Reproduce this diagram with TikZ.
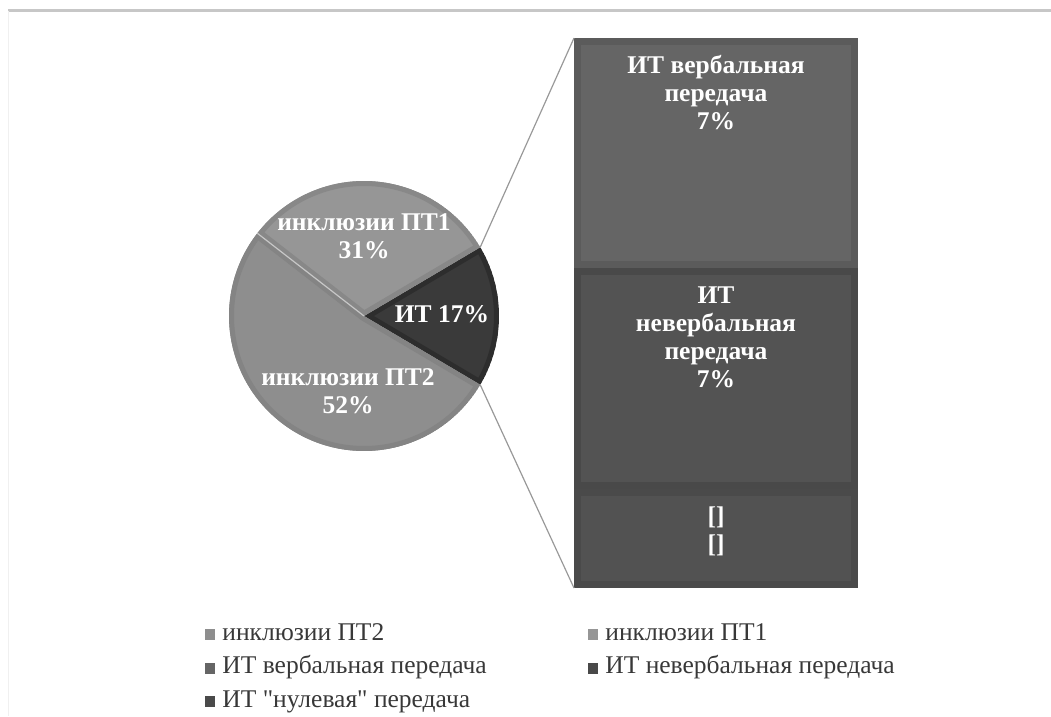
\documentclass[tikz,border=0pt]{standalone}
\usepackage{fontspec}
\IfFontExistsTF{LiberationSerif-Regular.ttf}
  {\setmainfont{LiberationSerif}[Extension=.ttf, UprightFont=*-Regular, BoldFont=*-Bold,
     ItalicFont=*-Italic, BoldItalicFont=*-BoldItalic, Ligatures=TeXOff]}
  {\setmainfont{Liberation Serif}[Ligatures=TeXOff]}
\usetikzlibrary{positioning}

\definecolor{ptTwoRim}{HTML}{848484}
\definecolor{ptTwoFill}{HTML}{8E8E8E}
\definecolor{ptOneRim}{HTML}{888888}
\definecolor{ptOneFill}{HTML}{969696}
\definecolor{itRim}{HTML}{2D2D2D}
\definecolor{itFill}{HTML}{3A3A3A}
\definecolor{verbRim}{HTML}{5B5B5B}
\definecolor{verbFill}{HTML}{656565}
\definecolor{nonverbRim}{HTML}{494949}
\definecolor{nonverbFill}{HTML}{535353}
\definecolor{nullRim}{HTML}{4A4A4A}
\definecolor{nullFill}{HTML}{525252}

\def\pierad{135pt}

% one wedge of the pie with a darker rim inside
\newcommand{\pieslice}[4]{%
  \begin{scope}
    \clip (pc) -- ++(#1:\pierad) arc (#1:#2:\pierad) -- cycle;
    \fill[#4, draw=#3, line width=10pt] (pc) -- ++(#1:\pierad) arc (#1:#2:\pierad) -- cycle;
  \end{scope}}

\begin{document}
\begin{tikzpicture}[x=1pt, y=1pt,
    segment/.style 2 args={rectangle, fill=#1, minimum width=284pt, inner sep=0pt, outer sep=0pt,
      path picture={\fill[#2] ([shift={(7pt,-7pt)}]path picture bounding box.north west)
        rectangle ([shift={(-7pt,7pt)}]path picture bounding box.south east);}},
    datalabel/.style={text=white, align=center, inner sep=0pt,
      font=\bfseries\fontsize{25.5}{28}\selectfont},
    legmark/.style={rectangle, minimum width=10pt, minimum height=11pt, inner sep=0pt},
    legtext/.style={inner sep=0pt, text=black!78, font=\fontsize{25.5}{30}\selectfont},
    leader/.style={draw=black!40, line width=1.2pt}]

  \useasboundingbox (0,0) rectangle (1051,716);

  % frame of the chart area
  \draw[black!22, line width=2.5pt] (8,705.5) -- (1051,705.5);
  \draw[black!6, line width=1pt] (8,705) -- (8,0);

  % Pie
  \coordinate (pc) at (364,400);
  \pieslice{-30.6}{30.6}{itRim}{itFill}
  \pieslice{30.6}{142.2}{ptOneRim}{ptOneFill}
  \pieslice{142.2}{329.4}{ptTwoRim}{ptTwoFill}
  \draw[black!22, line width=1.2pt] (pc) -- ++(142.2:\pierad);

  \path (pc) ++(30.6:\pierad) coordinate (ittop);
  \path (pc) ++(-30.6:\pierad) coordinate (itbot);

  \node[datalabel] (lptone) at (364,480) {инклюзии ПТ1\\31\%};
  \node[datalabel] (lit) at (442,402) {ИТ 17\%};
  \node[datalabel] (lpttwo) at (348,325) {инклюзии ПТ2\\52\%};

  % Bar of the IT slice
  \node[segment={verbRim}{verbFill}, minimum height=230pt] (verbal) at (716,563) {};
  \node[segment={nonverbRim}{nonverbFill}, minimum height=221pt, below=0pt of verbal] (nonverbal) {};
  \node[segment={nullRim}{nullFill}, minimum height=99pt, below=0pt of nonverbal] (null) {};

  \node[datalabel, below=17pt of verbal.north] (lverbal) {ИТ вербальная\\передача\\7\%};
  \node[datalabel, below=19pt of nonverbal.north] (lnonverbal) {ИТ\\невербальная\\передача\\7\%};
  \node[datalabel, below=18pt of null.north] (lnull) {{[]}\\{[]}};

  % pie --> bar
  \draw[leader] (ittop) -- (verbal.north west);
  \draw[leader] (itbot) -- (null.south west);

  % Legend
  \node[legmark, fill=ptTwoFill] (mpttwo) at (210,81.5) {};
  \node[legtext, right=7pt of mpttwo.south east, anchor=base west] (tpttwo) {инклюзии ПТ2};
  \node[legmark, fill=ptOneFill] (mptone) at (593,81.5) {};
  \node[legtext, right=7pt of mptone.south east, anchor=base west] (tptone) {инклюзии ПТ1};

  \node[legmark, fill=verbFill] (mverbal) at (210,48) {};
  \node[legtext, right=7pt of mverbal.south east, anchor=base west] (tverbal) {ИТ вербальная передача};
  \node[legmark, fill=nonverbRim] (mnonverbal) at (593,48) {};
  \node[legtext, right=7pt of mnonverbal.south east, anchor=base west] (tnonverbal) {ИТ невербальная передача};

  \node[legmark, fill=nullRim] (mnull) at (210,14.5) {};
  \node[legtext, right=7pt of mnull.south east, anchor=base west] (tnull) {ИТ "нулевая" передача};

\end{tikzpicture}
\end{document}
